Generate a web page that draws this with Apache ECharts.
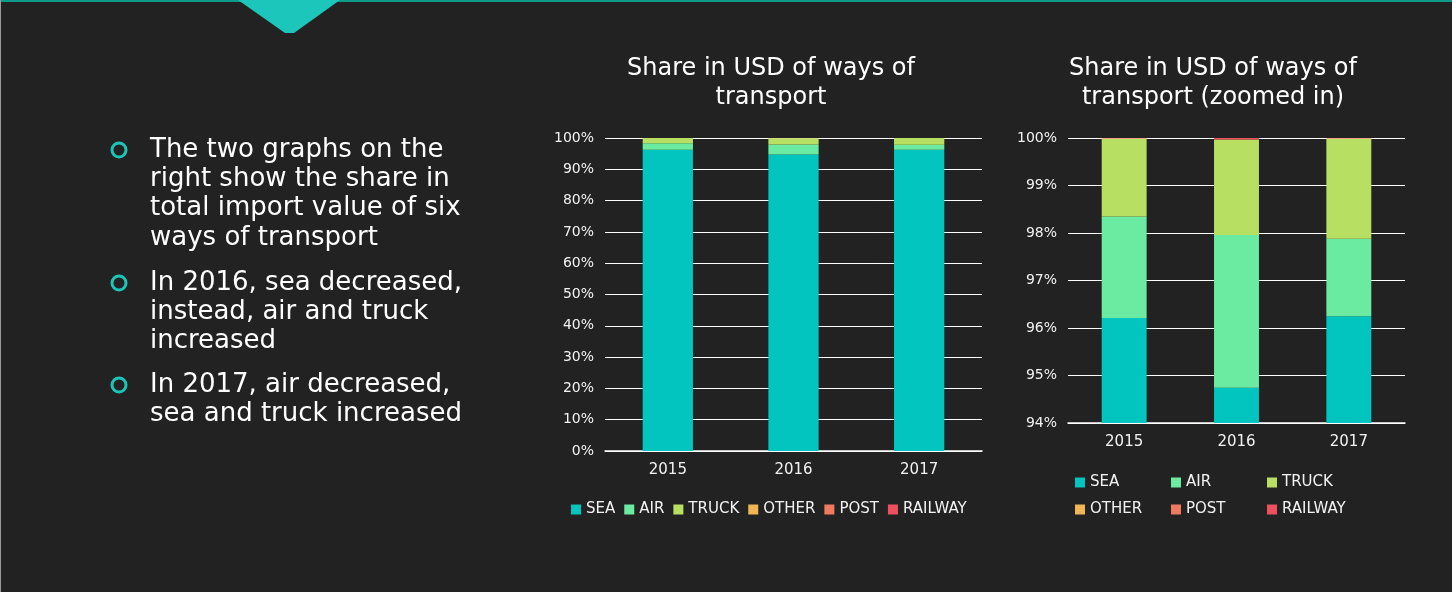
<!DOCTYPE html>
<html>
<head>
<meta charset="utf-8">
<script src="https://cdn.jsdelivr.net/npm/echarts@6/dist/echarts.min.js"></script>
<style>
html,body{margin:0;padding:0;background:#222222;}
#main{width:1452px;height:592px;}
</style>
</head>
<body>
<div id="main"></div>
<script>
// ---- data ----
const years = ['2015', '2016', '2017'];
const seriesNames = ['SEA', 'AIR', 'TRUCK', 'OTHER', 'POST', 'RAILWAY'];
const sea = [96.21, 94.74, 96.25];
const air = [2.14, 3.22, 1.63];
const truck = [1.63, 2.00, 2.10];
const other = [0.01, 0.01, 0.01];
const post = [0.005, 0.005, 0.005];
const railway = [0.005, 0.025, 0.005];
const leftTicks = { min: 0, max: 100, interval: 10 };
const rightTicks = { min: 94, max: 100, interval: 1 };
const titleLeft = 'Share in USD of ways of\ntransport';
const titleRight = 'Share in USD of ways of\ntransport (zoomed in)';
const bullets = [
  ['The two graphs on the', 'right show the share in', 'total import value of six', 'ways of transport'],
  ['In 2016, sea decreased,', 'instead, air and truck', 'increased'],
  ['In 2017, air decreased,', 'sea and truck increased']
];

const values = [sea, air, truck, other, post, railway];
const colors = ['#01C5BE', '#6BEBA1', '#B7E063', '#F0B654', '#F07A5F', '#EE5060'];
const FONT = '"DejaVu Sans", "Noto Sans", sans-serif';
const TXT = '#f2f2f2';

const chart = echarts.init(document.getElementById('main'), null, { renderer: 'canvas' });

const series = [];
[0, 1].forEach(function (g) {
  seriesNames.forEach(function (n, i) {
    series.push({
      name: n, type: 'bar', stack: 's' + g,
      xAxisIndex: g, yAxisIndex: g,
      barWidth: '40%', clip: true,
      itemStyle: { color: colors[i] },
      data: values[i]
    });
  });
});

// graphics: decoration + bullet text
const graphics = [
  { type: 'rect', shape: { x: 0, y: 0, width: 1452, height: 2 }, style: { fill: '#0E9A8B' }, z: 1 },
  { type: 'polygon', shape: { points: [[238, 0], [340, 0], [294, 33], [285, 33]], smooth: 0 }, style: { fill: '#1CC6BA' }, z: 2 },
  { type: 'rect', shape: { x: 0, y: 0, width: 1, height: 592 }, style: { fill: '#9a9a9a' }, z: 1 }
];
const bulletStarts = [150, 283, 385];
const lineH = 29.3;
bullets.forEach(function (lines, b) {
  graphics.push({
    type: 'circle', shape: { cx: 119, cy: bulletStarts[b], r: 7 },
    style: { fill: 'none', stroke: '#1BC5B8', lineWidth: 3 }, z: 5
  });
  lines.forEach(function (t, j) {
    graphics.push({
      type: 'text', x: 150, y: bulletStarts[b] + j * lineH,
      style: { text: t, fill: '#ffffff', font: '26px ' + FONT, textVerticalAlign: 'middle', textAlign: 'left' }, z: 5
    });
  });
});

const legendBase = {
  icon: 'rect', itemWidth: 10, itemHeight: 10,
  textStyle: { color: TXT, fontFamily: FONT, fontSize: 15 },
  inactiveColor: '#555'
};
const legends = [
  Object.assign({}, legendBase, { data: seriesNames, top: 497, itemGap: 9, left: 566 })
];
const rightPos = [[1070, 470], [1166, 470], [1262, 470], [1070, 497], [1166, 497], [1262, 497]];
seriesNames.forEach(function (n, i) {
  legends.push(Object.assign({}, legendBase, { data: [n], left: rightPos[i][0], top: rightPos[i][1] }));
});

function yAxis(g, t) {
  return {
    type: 'value', gridIndex: g, min: t.min, max: t.max, interval: t.interval,
    axisLine: { show: false }, axisTick: { show: false },
    splitLine: { lineStyle: { color: '#ffffff', width: 1 } },
    axisLabel: { formatter: '{value}%', color: TXT, fontFamily: FONT, fontSize: 14, margin: 11 }
  };
}
function xAxis(g, m) {
  return {
    type: 'category', gridIndex: g, data: years,
    axisLine: { lineStyle: { color: '#ffffff', width: 1.5 } }, axisTick: { show: false },
    axisLabel: { color: TXT, fontFamily: FONT, fontSize: 15, margin: m }
  };
}

chart.setOption({
  backgroundColor: '#222222',
  animation: false,
  title: [
    { text: titleLeft, left: 766, top: 49, textAlign: 'center',
      textStyle: { color: '#ffffff', fontFamily: FONT, fontSize: 24, fontWeight: 'normal', lineHeight: 29 } },
    { text: titleRight, left: 1208, top: 49, textAlign: 'center',
      textStyle: { color: '#ffffff', fontFamily: FONT, fontSize: 24, fontWeight: 'normal', lineHeight: 29 } }
  ],
  grid: [
    { left: 605, right: 470, top: 138, bottom: 141 },
    { left: 1068, right: 47, top: 138, bottom: 169 }
  ],
  xAxis: [xAxis(0, 12), xAxis(1, 12)],
  yAxis: [yAxis(0, leftTicks), yAxis(1, rightTicks)],
  legend: legends,
  graphic: graphics,
  series: series
});
</script>
</body>
</html>
